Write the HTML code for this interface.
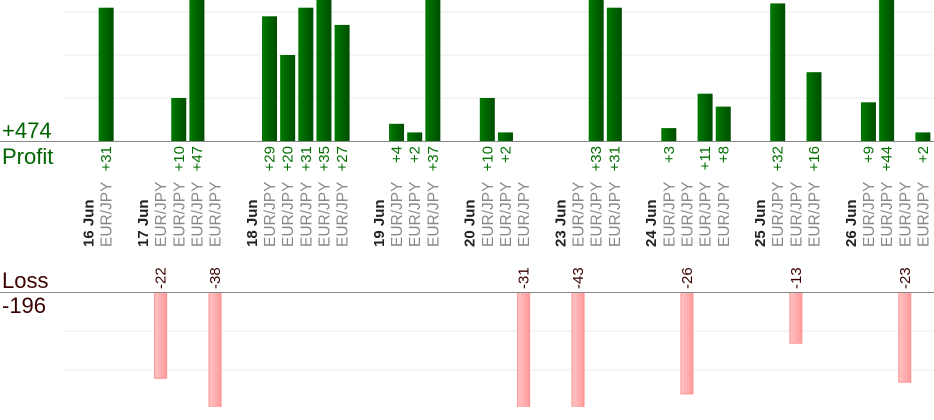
<!DOCTYPE html>
<html><head><meta charset="utf-8"><style>
html,body{margin:0;padding:0;background:#fff;width:934px;height:420px;overflow:hidden}
svg{display:block;font-family:"Liberation Sans",sans-serif;overflow:hidden}
</style></head><body>
<svg id="c" width="934" height="420">
<defs>
<linearGradient id="gg" x1="0" x2="1"><stop offset="0" stop-color="#007a00"/><stop offset="1" stop-color="#004d00"/></linearGradient>
<linearGradient id="rg" x1="0" x2="1"><stop offset="0" stop-color="#ffc4c4"/><stop offset="1" stop-color="#ff9c9c"/></linearGradient>
<clipPath id="pc"><rect x="0" y="0" width="934" height="141"/></clipPath>
<clipPath id="lc"><rect x="0" y="292" width="934" height="115"/></clipPath>
</defs>
<text x="2" y="138" font-size="22" fill="#006400">+474</text>
<text x="2" y="164" font-size="22" fill="#006400">Profit</text>
<text x="2" y="288" font-size="22" fill="#3a0000">Loss</text>
<text x="2" y="313" font-size="22" fill="#3a0000">-196</text>
<g id="grid"></g>
<g id="bars"></g>
<g id="labels"></g>
<line x1="0" x2="934" y1="141.5" y2="141.5" stroke="#888"/>
<line x1="0" x2="934" y1="292.5" y2="292.5" stroke="#888"/>
</svg>
<script>
// slot categories: "D:" = date header, "" = empty spacer, otherwise trade label
const categories = ["D:16 Jun","EUR/JPY","",
"D:17 Jun","EUR/JPY","EUR/JPY","EUR/JPY","EUR/JPY","",
"D:18 Jun","EUR/JPY","EUR/JPY","EUR/JPY","EUR/JPY","EUR/JPY","",
"D:19 Jun","EUR/JPY","EUR/JPY","EUR/JPY","",
"D:20 Jun","EUR/JPY","EUR/JPY","EUR/JPY","",
"D:23 Jun","EUR/JPY","EUR/JPY","EUR/JPY","",
"D:24 Jun","EUR/JPY","EUR/JPY","EUR/JPY","EUR/JPY","",
"D:25 Jun","EUR/JPY","EUR/JPY","EUR/JPY","",
"D:26 Jun","EUR/JPY","EUR/JPY","EUR/JPY","EUR/JPY"];
// trade results in order of trade slots
const results = [31, -22,10,47,-38, 29,20,31,35,27, 4,2,37, 10,2,-31, -43,33,31, 3,-26,11,8, 32,-13,16, 9,44,-23,2];
const profitTicks = [10,20,30];
const lossTicks = [10,20];

const NS="http://www.w3.org/2000/svg";
const x0=88, slotW=18.15, pBase=141, pScale=4.3, lBase=292, lScale=3.9;
function xOf(i){return x0+i*slotW;}
function yP(v){return pBase-v*pScale;}
function yL(v){return lBase+v*lScale;}
function mk(tag,attrs,parent){const e=document.createElementNS(NS,tag);for(const k in attrs)e.setAttribute(k,attrs[k]);parent.appendChild(e);return e;}
const grid=document.getElementById('grid'),bars=document.getElementById('bars'),labels=document.getElementById('labels');
profitTicks.forEach(t=>{const l=mk('line',{x1:63,x2:934,y1:yP(t),y2:yP(t),stroke:'#ebebeb'},grid);

});
lossTicks.forEach(t=>{const l=mk('line',{x1:63,x2:934,y1:yL(t),y2:yL(t),stroke:'#ebebeb'},grid);

});
let k=0;
categories.forEach((c,i)=>{
  const cx=xOf(i);
  if(c==="") return;
  if(c.startsWith("D:")){
    const t=mk('text',{transform:`translate(${cx+5.5},247) rotate(-90)`,'font-size':15,'font-weight':'bold',fill:'#222'},labels);
    t.textContent=c.slice(2);
    
    
    return;
  }
  const t=mk('text',{transform:`translate(${cx+5.5},247) rotate(-90)`,'font-size':15.5,fill:'#888'},labels);
  t.textContent=c;
  
  
  const v=results[k++];
  if(v>=0){
    const r=mk('rect',{x:cx-7.5,y:yP(v),width:15,height:v*pScale,fill:'url(#gg)','clip-path':'url(#pc)'},bars);
    
    
    const vt=mk('text',{transform:`translate(${cx+5},146) rotate(-90)`,'font-size':15,fill:'#007000','text-anchor':'end'},labels);
    vt.textContent='+'+v;
    
    
  } else {
    const a=-v;
    const r=mk('rect',{x:cx-6,y:lBase+0.5,width:12,height:a*lScale,fill:'url(#rg)',stroke:'#ff9090','stroke-width':1,'clip-path':'url(#lc)'},bars);
    
    
    const vt=mk('text',{transform:`translate(${cx+5},289) rotate(-90)`,'font-size':15,fill:'#3a0000'},labels);
    vt.textContent=String(v);
    
    
  }
});
</script>
</body></html>
